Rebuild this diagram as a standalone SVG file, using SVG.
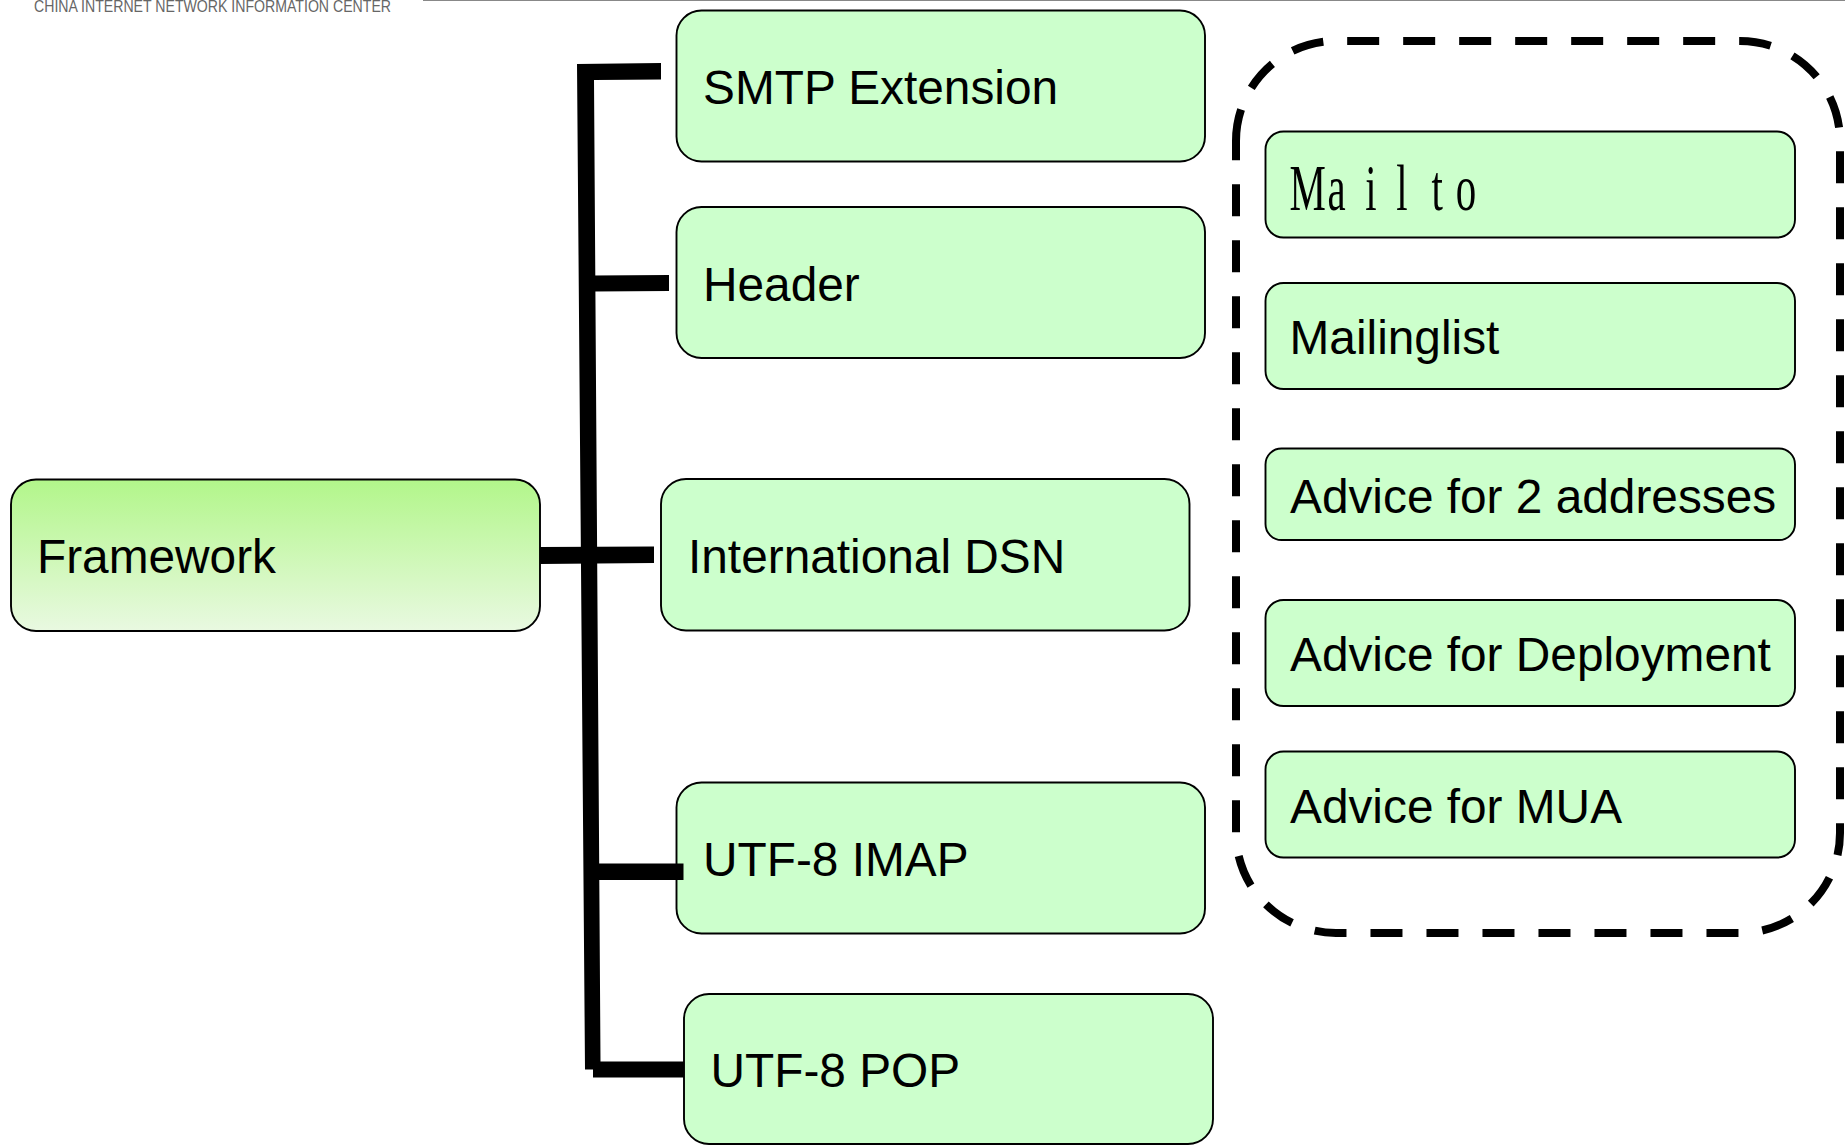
<svg xmlns="http://www.w3.org/2000/svg" width="1845" height="1145" viewBox="0 0 1845 1145">
<style>
.n{fill:#ccffcc;stroke:#000;stroke-width:1.9}
.t{font-family:"Liberation Sans",Arial,sans-serif;font-size:47.8px;fill:#000}
.c{fill:#000;stroke:none}
</style>
<defs>
<linearGradient id="g" x1="0" y1="0" x2="0" y2="1"><stop offset="0" stop-color="#b2f68a"/><stop offset="1" stop-color="#e9f9e1"/></linearGradient>
</defs>
<rect width="1845" height="1145" fill="#fff"/>
<g id="header">
<text x="34" y="11.5" font-family="'Liberation Sans',Arial,sans-serif" font-size="16.5" fill="#666" textLength="357" lengthAdjust="spacingAndGlyphs">CHINA INTERNET NETWORK INFORMATION CENTER</text>
<rect x="423" y="0" width="1422" height="1" fill="#888"/>
</g>
<g id="group-box"><path d="M1236 141A100 100 0 0 1 1336 41H1740A100 100 0 0 1 1840 141V833A100 100 0 0 1 1740 933H1336A100 100 0 0 1 1236 833Z" fill="none" stroke="#000" stroke-width="8" stroke-dasharray="32 24"/></g>
<g id="framework"><rect x="11" y="479.500" width="529" height="151.500" rx="25" fill="url(#g)" stroke="#000" stroke-width="1.900"/><text class="t" x="37" y="573">Framework</text></g>
<g id="smtp"><rect class="n" x="676.500" y="10.500" width="528.500" height="151" rx="25"/><text class="t" x="703" y="104">SMTP Extension</text></g>
<g id="header-node"><rect class="n" x="676.500" y="207" width="528.500" height="151" rx="25"/><text class="t" x="703" y="301">Header</text></g>
<g id="dsn"><rect class="n" x="661" y="479" width="528.500" height="151.500" rx="25"/><text class="t" x="688" y="573">International DSN</text></g>
<g id="imap"><rect class="n" x="676.500" y="782.500" width="528.500" height="151" rx="25"/><text class="t" x="703" y="876">UTF-8 IMAP</text></g>
<g id="pop"><rect class="n" x="684" y="994" width="529" height="150" rx="25"/><text class="t" x="710.500" y="1087">UTF-8 POP</text></g>
<g id="mailto"><rect class="n" x="1265.500" y="131.500" width="529.500" height="106" rx="18"/><text transform="scale(.62 1)" font-family="'Liberation Serif','Times New Roman',serif" font-size="66" y="210" x="2080 2141 2202 2252 2309 2348">Mailto</text></g>
<g id="mailinglist"><rect class="n" x="1265.500" y="283" width="529.500" height="106" rx="18"/><text class="t" x="1289.500" y="354">Mailinglist</text></g>
<g id="advice2"><rect class="n" x="1265.500" y="448.500" width="529.500" height="91.500" rx="16"/><text class="t" x="1290" y="513">Advice for 2 addresses</text></g>
<g id="deployment"><rect class="n" x="1265.500" y="600" width="529.500" height="106" rx="18"/><text class="t" x="1290" y="671">Advice for Deployment</text></g>
<g id="mua"><rect class="n" x="1265.500" y="751.500" width="529.500" height="106" rx="18"/><text class="t" x="1290" y="822.500">Advice for MUA</text></g>
<g id="connectors">
<polygon class="c" points="577,64 661,63 661,79.500 594,80 600.500,1061.500 684,1061.500 684,1077.500 593,1077.500 593,1069.500 585,1069.500"/>
<polygon class="c" points="593,275.500 669,275 669,291 593,291.500"/>
<polygon class="c" points="540,547 654,546.500 654,563 540,564"/>
<rect class="c" x="596" y="863.500" width="87.500" height="16.500"/>
</g>
</svg>
